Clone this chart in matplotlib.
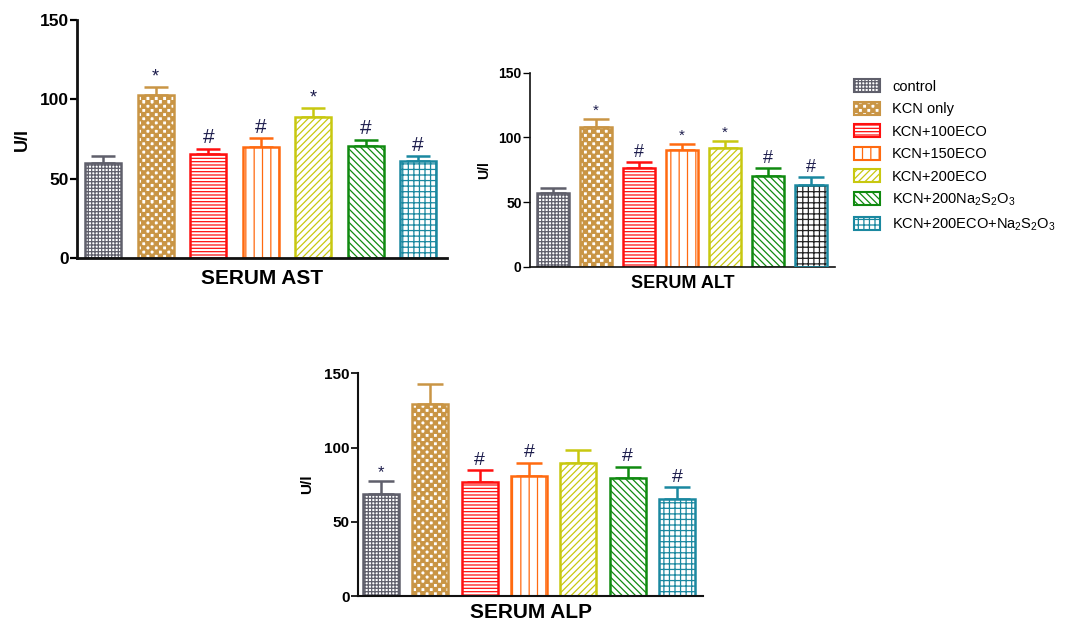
import numpy as np
import matplotlib
matplotlib.use("Agg")
import matplotlib.pyplot as plt
import matplotlib.hatch as mhatch
from matplotlib.path import Path
from matplotlib.patches import Patch

# ---------------- data ----------------
groups = ["control", "KCN only", "KCN+100ECO", "KCN+150ECO", "KCN+200ECO",
          "KCN+200Na$_2$S$_2$O$_3$", "KCN+200ECO+Na$_2$S$_2$O$_3$"]

ast_mean = [60, 102.5, 65.5, 70, 89, 70.8, 61]
ast_err = [4.5, 5.5, 3.5, 5.5, 5.5, 3.8, 3]
ast_marks = ["", "*", "#", "#", "*", "#", "#"]

alt_mean = [56.7, 108, 76.5, 90.2, 91.5, 70.4, 63.2]
alt_err = [4, 6.2, 4.3, 4.4, 5.7, 5.6, 5.9]
alt_marks = ["", "*", "#", "*", "*", "#", "#"]

alp_mean = [68.5, 129, 76.6, 80.8, 89.8, 79.7, 65.5]
alp_err = [8.8, 13.5, 8.1, 9, 8.3, 7.4, 7.7]
alp_marks = ["*", "", "#", "#", "", "#", "#"]

yticks = [0, 50, 100, 150]

colors = ["#5f5f6b", "#c99545", "#ff1010", "#ff6a10", "#c8c810", "#108a10", "#1a88a0"]
hatches = ["+++++", "****", "-----", "||", "/////", "\\\\\\\\\\", "+++"]


# ---------- checkerboard hatch (replaces star hatch) ----------
class Checker(mhatch.HatchPatternBase):
    def __init__(self, hatch, density):
        n = hatch.count('*') * density
        if n % 2:
            n += 1
        self.n = n
        self.num_squares = (n * n) // 2 if n else 0
        self.num_vertices = self.num_squares * 5

    def set_vertices_and_codes(self, vertices, codes):
        n = self.n
        s = 1.0 / n
        k = 0
        for i in range(n):
            for j in range(n):
                if (i + j) % 2 == 0:
                    x0, y0 = i * s, j * s
                    vertices[k:k + 5] = [[x0, y0], [x0 + s, y0], [x0 + s, y0 + s],
                                         [x0, y0 + s], [x0, y0]]
                    codes[k:k + 5] = [Path.MOVETO, Path.LINETO, Path.LINETO,
                                      Path.LINETO, Path.CLOSEPOLY]
                    k += 5


mhatch._hatch_types = [t for t in mhatch._hatch_types if t is not mhatch.Stars] + [Checker]

plt.rcParams['font.family'] = ['Liberation Sans', 'DejaVu Sans']
plt.rcParams['mathtext.default'] = 'regular'
plt.rcParams['hatch.linewidth'] = 0.9

fig = plt.figure(figsize=(10.71, 6.22), dpi=100)

mark_color = "#1c1c4c"


def panel(rect, means, errs, marks, title, tick_fs, title_fs, lab_fs, spine_lw, width,
          xlim, special_last=False, mark_fs=13, title_pad=8, lab_pad=6):
    ax = fig.add_axes(rect)
    x = np.arange(len(means))
    for i in range(len(means)):
        if special_last and i == len(means) - 1:
            ax.bar(x[i], means[i], width, color="white", edgecolor="#222222",
                   hatch=hatches[i], linewidth=0, zorder=2)
            ax.bar(x[i], means[i], width, color="none", edgecolor=colors[i],
                   linewidth=1.8, zorder=3)
        else:
            ax.bar(x[i], means[i], width, color="white", edgecolor=colors[i],
                   hatch=hatches[i], linewidth=1.8, zorder=2)
        ax.errorbar(x[i], means[i], yerr=[[0], [errs[i]]], color=colors[i],
                    elinewidth=1.8, capsize=width * 13, capthick=1.8, zorder=1)
        if marks[i]:
            fs = mark_fs if marks[i] == "#" else mark_fs - 2
            ax.annotate(marks[i], (x[i], means[i] + errs[i]), xytext=(0, 1),
                        textcoords="offset points", ha="center", va="bottom",
                        fontsize=fs, color=mark_color)
    ax.set_ylim(0, 150)
    ax.set_xlim(*xlim)
    ax.set_yticks(yticks)
    ax.set_xticks([])
    for s in ["top", "right"]:
        ax.spines[s].set_visible(False)
    for s in ["left", "bottom"]:
        ax.spines[s].set_linewidth(spine_lw)
        ax.spines[s].set_color("#111111")
    ax.tick_params(axis="y", length=5, width=spine_lw * 0.8, labelsize=tick_fs, pad=1)
    for lab in ax.get_yticklabels():
        lab.set_fontweight("bold")
    ax.set_ylabel("U/l", fontsize=lab_fs, fontweight="bold", labelpad=lab_pad)
    ax.set_xlabel(title, fontsize=title_fs, fontweight="bold", labelpad=title_pad)
    return ax


panel([0.0719, 0.5852, 0.3455, 0.3826], ast_mean, ast_err, ast_marks, "SERUM AST",
      12.5, 15, 13, 2.0, 0.68, (-0.5, 6.55), mark_fs=15, title_pad=8, lab_pad=6)
panel([0.4949, 0.5712, 0.2848, 0.3119], alt_mean, alt_err, alt_marks, "SERUM ALT",
      10, 13, 10, 1.2, 0.74, (-0.535, 6.56), special_last=True, mark_fs=13,
      title_pad=6, lab_pad=5)
panel([0.3343, 0.0418, 0.3221, 0.3580], alp_mean, alp_err, alp_marks,
      "SERUM ALP", 11, 15, 11, 1.5, 0.73, (-0.47, 6.53), mark_fs=14,
      title_pad=5, lab_pad=7)

handles = [Patch(facecolor="white", edgecolor=c, hatch=h, linewidth=1.5)
           for c, h in zip(colors, hatches)]
fig.legend(handles, groups, loc="upper left", bbox_to_anchor=(0.792, 0.882),
           frameon=False, fontsize=10.5, handlelength=1.8, handleheight=1.0,
           labelspacing=0.55, handletextpad=0.8, borderaxespad=0)

fig.savefig("out.png", dpi=100)
